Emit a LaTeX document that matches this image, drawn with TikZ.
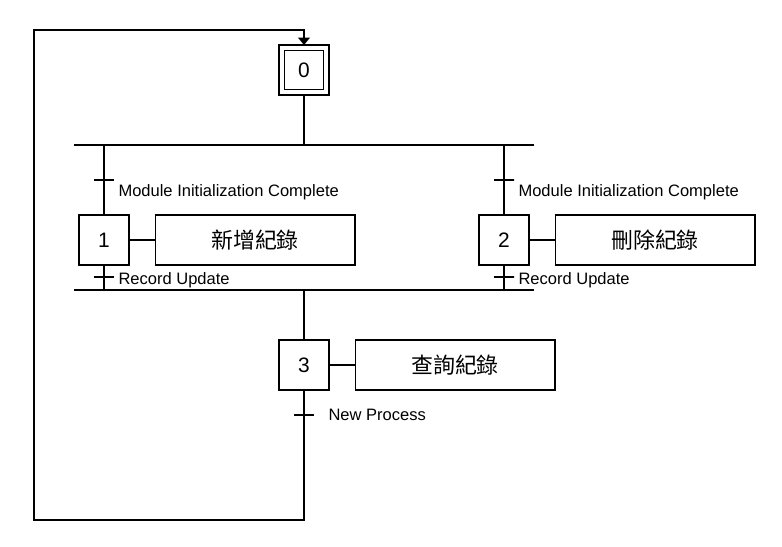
\documentclass[tikz,border=0pt]{standalone}
\usepackage{fontspec}
\setmainfont{Liberation Sans}
\newfontfamily\cjk{Noto Sans CJK TC}
\usetikzlibrary{arrows.meta,positioning}

\tikzset{
  stepbox/.style={draw, minimum size=1cm, inner sep=0pt, font=\fontsize{11.9}{14}\selectfont},
  initstep/.style={stepbox, minimum size=0.9cm, double, double distance=0.08cm, outer sep=0.05cm},
  actbox/.style={draw, minimum width=4cm, minimum height=1cm, inner sep=0pt, font=\cjk\fontsize{12.5}{15}\selectfont},
  trans/.style={draw, minimum width=0.4cm, minimum height=0pt, inner sep=0pt, outer sep=0pt},
  cond/.style={anchor=base west, inner sep=0pt, font=\fontsize{9.4}{11}\selectfont},
  flow/.style={-{Triangle[width=0.24cm,length=0.15cm]}}
}

\begin{document}
\begin{tikzpicture}[x=0.02cm, y=-0.02cm, line width=0.6pt, node distance=0.5cm]
   \useasboundingbox (0,0) rectangle (782,547);

   % steps and actions
   \node[initstep] (s0) at (304,70) {0};
   \node[stepbox] (s1) at (104,240) {1};
   \node[actbox, right=of s1] (a1) {新增紀錄};
   \node[stepbox] (s2) at (504,240) {2};
   \node[actbox, right=of s2] (a2) {刪除紀錄};
   \node[stepbox] (s3) at (304,365) {3};
   \node[actbox, right=of s3] (a3) {查詢紀錄};

   \draw (s1) -- (a1);
   \draw (s2) -- (a2);
   \draw (s3) -- (a3);

   % divergence / convergence bars
   \coordinate (selL) at (74,145);
   \coordinate (selR) at (534,145);
   \coordinate (joinL) at (74,290);
   \coordinate (joinR) at (534,290);
   \draw (selL) -- (selR);
   \draw (joinL) -- (joinR);

   \draw (s0.south) -- (s0.south |- selL);
   \draw (s1.north |- selL) -- (s1.north);
   \draw (s2.north |- selL) -- (s2.north);
   \draw (s1.south) -- (s1.south |- joinL);
   \draw (s2.south) -- (s2.south |- joinL);
   \draw (s3.north |- joinL) -- (s3.north);

   % loop back to step 0
   \coordinate (backL) at (34,520);
   \coordinate (backT) at (34,30);
   \draw[flow] (s3.south) |- (backL) -- (backT) -| (s0.north);

   % transitions
   \node[trans] (t1) at (104,180) {};
   \node[cond] at (118,197) {Module Initialization Complete};
   \node[trans] (t2) at (504,180) {};
   \node[cond] at (518,197) {Module Initialization Complete};
   \node[trans] (t3) at (104,277) {};
   \node[cond] at (118,285) {Record Update};
   \node[trans] (t4) at (504,277) {};
   \node[cond] at (518,285) {Record Update};
   \node[trans] (t5) at (304,415) {};
   \node[cond] at (328,421) {New Process};
\end{tikzpicture}
\end{document}
